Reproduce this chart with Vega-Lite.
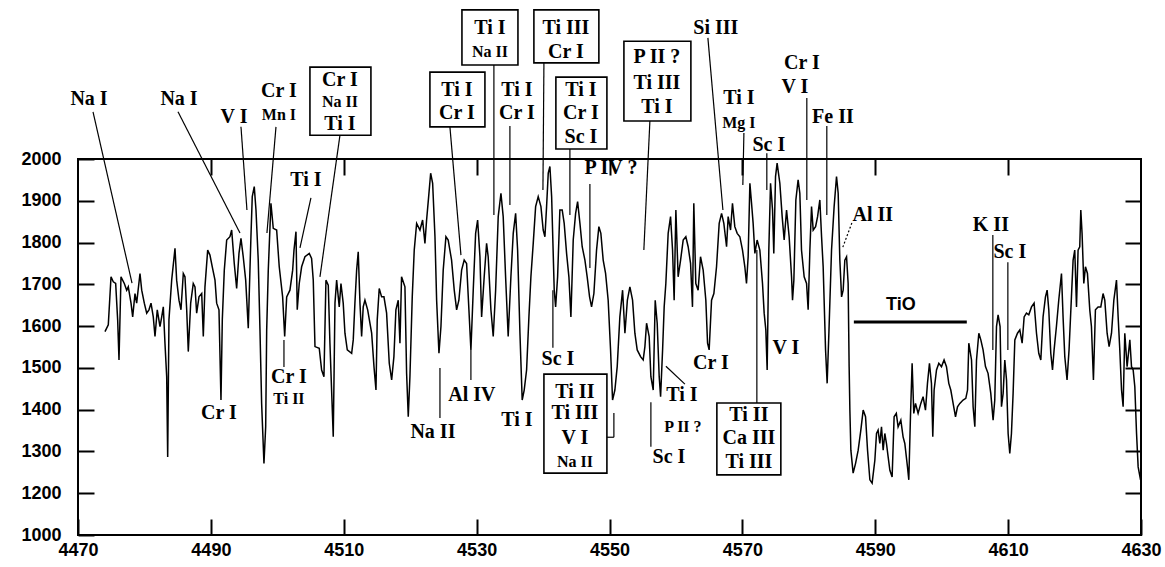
{
"$schema": "https://vega.github.io/schema/vega-lite/v6.json",
"width": 1063, "height": 376,
"autosize": {"type": "none"},
"padding": {"left": 78, "top": 159, "right": 24, "bottom": 32},
"background": "white",
"config": {"view": {"stroke": "black", "strokeWidth": 2}, "axis": {"grid": false, "domain": false, "title": null, "labelFont": "Liberation Sans", "labelFontWeight": "bold", "labelFontSize": 18, "labelColor": "black", "tickColor": "black", "tickWidth": 2, "labelOverlap": false}},
"resolve": {"axis": {"x": "independent", "y": "independent"}},
"datasets": {
"spectrum": [
{"w":4474.06,"f":1587},{"w":4474.56,"f":1603},{"w":4474.97,"f":1718},{"w":4475.31,"f":1706},{"w":4475.67,"f":1702},{"w":4475.97,"f":1615},{"w":4476.17,"f":1519},{"w":4476.47,"f":1718},{"w":4476.97,"f":1702},{"w":4477.33,"f":1686},{"w":4477.57,"f":1694},{"w":4477.98,"f":1655},{"w":4478.23,"f":1622},{"w":4478.58,"f":1678},{"w":4478.83,"f":1655},{"w":4479.33,"f":1726},{"w":4479.59,"f":1686},{"w":4479.98,"f":1655},{"w":4480.34,"f":1631},{"w":4480.68,"f":1639},{"w":4480.99,"f":1655},{"w":4481.33,"f":1622},{"w":4481.59,"f":1575},{"w":4481.93,"f":1639},{"w":4482.34,"f":1599},{"w":4482.60,"f":1622},{"w":4482.84,"f":1646},{"w":4483.09,"f":1559},{"w":4483.35,"f":1479},{"w":4483.50,"f":1287},{"w":4483.69,"f":1615},{"w":4484.10,"f":1710},{"w":4484.60,"f":1786},{"w":4484.85,"f":1710},{"w":4485.20,"f":1662},{"w":4485.50,"f":1639},{"w":4485.85,"f":1726},{"w":4486.10,"f":1718},{"w":4486.36,"f":1639},{"w":4486.60,"f":1539},{"w":4486.96,"f":1655},{"w":4487.35,"f":1702},{"w":4487.61,"f":1694},{"w":4487.86,"f":1631},{"w":4488.21,"f":1670},{"w":4488.62,"f":1678},{"w":4488.86,"f":1575},{"w":4489.11,"f":1694},{"w":4489.52,"f":1782},{"w":4489.86,"f":1770},{"w":4490.21,"f":1742},{"w":4490.62,"f":1710},{"w":4490.87,"f":1655},{"w":4491.22,"f":1639},{"w":4491.52,"f":1423},{"w":4491.72,"f":1615},{"w":4492.02,"f":1734},{"w":4492.38,"f":1806},{"w":4492.87,"f":1814},{"w":4493.13,"f":1830},{"w":4493.52,"f":1750},{"w":4493.88,"f":1690},{"w":4494.23,"f":1774},{"w":4494.53,"f":1810},{"w":4494.87,"f":1766},{"w":4495.24,"f":1710},{"w":4495.63,"f":1595},{"w":4495.88,"f":1734},{"w":4496.03,"f":1814},{"w":4496.23,"f":1910},{"w":4496.53,"f":1934},{"w":4496.79,"f":1878},{"w":4497.13,"f":1758},{"w":4497.39,"f":1591},{"w":4497.64,"f":1415},{"w":4497.99,"f":1271},{"w":4498.25,"f":1359},{"w":4498.40,"f":1591},{"w":4498.64,"f":1734},{"w":4499.04,"f":1894},{"w":4499.39,"f":1834},{"w":4499.90,"f":1830},{"w":4500.29,"f":1742},{"w":4500.80,"f":1670},{"w":4501.11,"f":1575},{"w":4501.41,"f":1670},{"w":4501.90,"f":1686},{"w":4502.31,"f":1734},{"w":4502.51,"f":1782},{"w":4502.81,"f":1826},{"w":4503.00,"f":1639},{"w":4503.30,"f":1702},{"w":4503.66,"f":1742},{"w":4504.16,"f":1766},{"w":4504.81,"f":1774},{"w":4505.16,"f":1762},{"w":4505.41,"f":1710},{"w":4505.67,"f":1551},{"w":4506.31,"f":1547},{"w":4506.67,"f":1495},{"w":4507.02,"f":1479},{"w":4507.32,"f":1710},{"w":4507.67,"f":1698},{"w":4507.92,"f":1559},{"w":4508.42,"f":1335},{"w":4508.68,"f":1655},{"w":4508.93,"f":1710},{"w":4509.32,"f":1646},{"w":4509.58,"f":1702},{"w":4509.92,"f":1655},{"w":4510.18,"f":1583},{"w":4510.53,"f":1543},{"w":4511.19,"f":1535},{"w":4511.43,"f":1567},{"w":4511.68,"f":1655},{"w":4511.94,"f":1734},{"w":4512.18,"f":1778},{"w":4512.44,"f":1655},{"w":4512.69,"f":1575},{"w":4512.93,"f":1646},{"w":4513.19,"f":1662},{"w":4513.60,"f":1639},{"w":4513.94,"f":1607},{"w":4514.20,"f":1583},{"w":4514.55,"f":1503},{"w":4514.85,"f":1447},{"w":4515.04,"f":1615},{"w":4515.34,"f":1690},{"w":4515.70,"f":1670},{"w":4516.05,"f":1670},{"w":4516.45,"f":1631},{"w":4516.85,"f":1511},{"w":4517.21,"f":1471},{"w":4517.55,"f":1527},{"w":4517.85,"f":1639},{"w":4518.20,"f":1662},{"w":4518.46,"f":1559},{"w":4518.70,"f":1718},{"w":4519.21,"f":1694},{"w":4519.46,"f":1487},{"w":4519.71,"f":1383},{"w":4519.96,"f":1479},{"w":4520.31,"f":1670},{"w":4520.61,"f":1782},{"w":4520.97,"f":1846},{"w":4521.47,"f":1830},{"w":4521.87,"f":1854},{"w":4522.22,"f":1798},{"w":4522.47,"f":1854},{"w":4522.78,"f":1910},{"w":4523.08,"f":1966},{"w":4523.38,"f":1942},{"w":4523.73,"f":1814},{"w":4523.98,"f":1662},{"w":4524.33,"f":1535},{"w":4524.63,"f":1599},{"w":4524.97,"f":1734},{"w":4525.38,"f":1814},{"w":4525.72,"f":1806},{"w":4526.23,"f":1758},{"w":4526.63,"f":1686},{"w":4526.99,"f":1639},{"w":4527.33,"f":1662},{"w":4527.74,"f":1734},{"w":4528.13,"f":1758},{"w":4528.49,"f":1750},{"w":4528.84,"f":1639},{"w":4529.14,"f":1543},{"w":4529.49,"f":1686},{"w":4529.85,"f":1822},{"w":4530.15,"f":1854},{"w":4530.50,"f":1766},{"w":4530.75,"f":1622},{"w":4531.14,"f":1718},{"w":4531.50,"f":1798},{"w":4531.74,"f":1766},{"w":4532.15,"f":1639},{"w":4532.50,"f":1575},{"w":4532.86,"f":1686},{"w":4533.25,"f":1862},{"w":4533.66,"f":1918},{"w":4534.00,"f":1862},{"w":4534.36,"f":1718},{"w":4534.75,"f":1575},{"w":4535.16,"f":1718},{"w":4535.51,"f":1822},{"w":4535.87,"f":1870},{"w":4536.17,"f":1782},{"w":4536.52,"f":1583},{"w":4536.86,"f":1423},{"w":4537.16,"f":1447},{"w":4537.52,"f":1495},{"w":4537.87,"f":1622},{"w":4538.17,"f":1718},{"w":4538.52,"f":1798},{"w":4538.88,"f":1886},{"w":4539.27,"f":1910},{"w":4539.68,"f":1886},{"w":4540.02,"f":1830},{"w":4540.28,"f":1814},{"w":4540.53,"f":1886},{"w":4540.78,"f":1966},{"w":4541.03,"f":1982},{"w":4541.29,"f":1910},{"w":4541.68,"f":1686},{"w":4541.89,"f":1646},{"w":4542.19,"f":1718},{"w":4542.53,"f":1878},{"w":4542.88,"f":1878},{"w":4543.18,"f":1846},{"w":4543.54,"f":1774},{"w":4543.89,"f":1718},{"w":4544.19,"f":1622},{"w":4544.54,"f":1806},{"w":4544.90,"f":1870},{"w":4545.20,"f":1898},{"w":4545.55,"f":1846},{"w":4545.89,"f":1790},{"w":4546.30,"f":1758},{"w":4546.64,"f":1718},{"w":4547.00,"f":1670},{"w":4547.30,"f":1646},{"w":4547.65,"f":1678},{"w":4548.05,"f":1782},{"w":4548.40,"f":1838},{"w":4548.70,"f":1822},{"w":4549.05,"f":1758},{"w":4549.41,"f":1726},{"w":4549.80,"f":1662},{"w":4550.16,"f":1543},{"w":4550.46,"f":1423},{"w":4550.81,"f":1447},{"w":4551.16,"f":1503},{"w":4551.56,"f":1622},{"w":4551.97,"f":1686},{"w":4552.32,"f":1583},{"w":4552.69,"f":1662},{"w":4553.07,"f":1694},{"w":4553.47,"f":1662},{"w":4553.82,"f":1583},{"w":4554.17,"f":1543},{"w":4554.68,"f":1527},{"w":4555.07,"f":1519},{"w":4555.33,"f":1551},{"w":4555.58,"f":1607},{"w":4555.97,"f":1575},{"w":4556.23,"f":1479},{"w":4556.58,"f":1447},{"w":4556.88,"f":1662},{"w":4557.18,"f":1607},{"w":4557.48,"f":1479},{"w":4557.69,"f":1431},{"w":4557.99,"f":1543},{"w":4558.23,"f":1646},{"w":4558.48,"f":1702},{"w":4558.83,"f":1822},{"w":4559.19,"f":1862},{"w":4559.49,"f":1782},{"w":4559.73,"f":1662},{"w":4559.99,"f":1878},{"w":4560.33,"f":1718},{"w":4560.70,"f":1758},{"w":4561.09,"f":1806},{"w":4561.49,"f":1814},{"w":4561.84,"f":1790},{"w":4562.20,"f":1750},{"w":4562.49,"f":1646},{"w":4562.69,"f":1894},{"w":4562.99,"f":1702},{"w":4563.34,"f":1686},{"w":4563.70,"f":1766},{"w":4564.10,"f":1734},{"w":4564.50,"f":1662},{"w":4564.76,"f":1559},{"w":4565.00,"f":1543},{"w":4565.36,"f":1662},{"w":4565.71,"f":1678},{"w":4566.11,"f":1742},{"w":4566.51,"f":1846},{"w":4566.87,"f":1870},{"w":4567.21,"f":1846},{"w":4567.62,"f":1790},{"w":4567.86,"f":1862},{"w":4568.22,"f":1830},{"w":4568.51,"f":1894},{"w":4568.86,"f":1838},{"w":4569.22,"f":1822},{"w":4569.62,"f":1814},{"w":4570.02,"f":1782},{"w":4570.37,"f":1742},{"w":4570.62,"f":1702},{"w":4570.87,"f":1766},{"w":4571.13,"f":1942},{"w":4571.38,"f":1894},{"w":4571.62,"f":1846},{"w":4571.88,"f":1774},{"w":4572.22,"f":1806},{"w":4572.63,"f":1782},{"w":4573.03,"f":1702},{"w":4573.28,"f":1631},{"w":4573.53,"f":1591},{"w":4573.73,"f":1495},{"w":4573.98,"f":1782},{"w":4574.24,"f":1942},{"w":4574.54,"f":1878},{"w":4574.73,"f":1774},{"w":4574.99,"f":1958},{"w":4575.23,"f":1990},{"w":4575.64,"f":1942},{"w":4575.99,"f":1862},{"w":4576.29,"f":1806},{"w":4576.65,"f":1878},{"w":4577.04,"f":1814},{"w":4577.40,"f":1718},{"w":4577.55,"f":1662},{"w":4577.75,"f":1710},{"w":4578.05,"f":1902},{"w":4578.39,"f":1950},{"w":4578.65,"f":1918},{"w":4578.90,"f":1782},{"w":4579.30,"f":1718},{"w":4579.66,"f":1702},{"w":4579.90,"f":1639},{"w":4580.16,"f":1782},{"w":4580.41,"f":1886},{"w":4580.66,"f":1830},{"w":4581.02,"f":1838},{"w":4581.32,"f":1862},{"w":4581.66,"f":1902},{"w":4581.92,"f":1814},{"w":4582.16,"f":1742},{"w":4582.52,"f":1543},{"w":4582.76,"f":1463},{"w":4583.02,"f":1583},{"w":4583.42,"f":1782},{"w":4583.81,"f":1886},{"w":4584.17,"f":1958},{"w":4584.42,"f":1918},{"w":4584.67,"f":1758},{"w":4584.93,"f":1670},{"w":4585.17,"f":1686},{"w":4585.42,"f":1758},{"w":4585.68,"f":1766},{"w":4585.92,"f":1702},{"w":4586.07,"f":1503},{"w":4586.18,"f":1399},{"w":4586.33,"f":1303},{"w":4586.67,"f":1248},{"w":4587.03,"f":1271},{"w":4587.43,"f":1303},{"w":4587.83,"f":1351},{"w":4588.18,"f":1399},{"w":4588.54,"f":1383},{"w":4588.84,"f":1303},{"w":4589.19,"f":1232},{"w":4589.53,"f":1224},{"w":4589.94,"f":1279},{"w":4590.19,"f":1343},{"w":4590.43,"f":1351},{"w":4590.69,"f":1319},{"w":4590.94,"f":1359},{"w":4591.19,"f":1303},{"w":4591.44,"f":1343},{"w":4591.69,"f":1319},{"w":4591.94,"f":1287},{"w":4592.20,"f":1255},{"w":4592.54,"f":1239},{"w":4592.84,"f":1383},{"w":4593.17,"f":1391},{"w":4593.44,"f":1359},{"w":4593.85,"f":1375},{"w":4594.19,"f":1335},{"w":4594.45,"f":1319},{"w":4594.85,"f":1263},{"w":4595.05,"f":1232},{"w":4595.30,"f":1383},{"w":4595.55,"f":1511},{"w":4595.80,"f":1391},{"w":4596.06,"f":1415},{"w":4596.45,"f":1391},{"w":4596.86,"f":1415},{"w":4597.20,"f":1431},{"w":4597.56,"f":1399},{"w":4597.86,"f":1463},{"w":4598.16,"f":1511},{"w":4598.46,"f":1463},{"w":4598.66,"f":1335},{"w":4598.86,"f":1447},{"w":4599.22,"f":1495},{"w":4599.57,"f":1511},{"w":4599.97,"f":1503},{"w":4600.36,"f":1519},{"w":4600.72,"f":1503},{"w":4601.07,"f":1463},{"w":4601.37,"f":1447},{"w":4601.72,"f":1415},{"w":4602.08,"f":1383},{"w":4602.38,"f":1407},{"w":4602.73,"f":1415},{"w":4603.22,"f":1423},{"w":4603.63,"f":1427},{"w":4603.89,"f":1447},{"w":4604.08,"f":1559},{"w":4604.49,"f":1519},{"w":4604.73,"f":1407},{"w":4604.99,"f":1359},{"w":4605.24,"f":1519},{"w":4605.59,"f":1583},{"w":4605.89,"f":1567},{"w":4606.23,"f":1543},{"w":4606.59,"f":1503},{"w":4606.98,"f":1487},{"w":4607.39,"f":1439},{"w":4607.74,"f":1375},{"w":4607.99,"f":1423},{"w":4608.25,"f":1599},{"w":4608.49,"f":1627},{"w":4608.79,"f":1599},{"w":4609.00,"f":1407},{"w":4609.25,"f":1439},{"w":4609.50,"f":1519},{"w":4609.76,"f":1471},{"w":4610.00,"f":1343},{"w":4610.25,"f":1295},{"w":4610.50,"f":1343},{"w":4610.75,"f":1439},{"w":4611.01,"f":1567},{"w":4611.41,"f":1583},{"w":4611.76,"f":1591},{"w":4612.11,"f":1559},{"w":4612.41,"f":1622},{"w":4612.76,"f":1631},{"w":4613.11,"f":1627},{"w":4613.52,"f":1646},{"w":4613.91,"f":1655},{"w":4614.27,"f":1583},{"w":4614.61,"f":1535},{"w":4614.92,"f":1519},{"w":4615.26,"f":1622},{"w":4615.62,"f":1670},{"w":4615.87,"f":1686},{"w":4616.12,"f":1639},{"w":4616.42,"f":1535},{"w":4616.68,"f":1495},{"w":4616.92,"f":1543},{"w":4617.27,"f":1599},{"w":4617.62,"f":1662},{"w":4618.03,"f":1726},{"w":4618.27,"f":1622},{"w":4618.53,"f":1527},{"w":4618.87,"f":1471},{"w":4619.17,"f":1543},{"w":4619.53,"f":1670},{"w":4619.78,"f":1758},{"w":4620.03,"f":1782},{"w":4620.29,"f":1646},{"w":4620.53,"f":1782},{"w":4620.78,"f":1790},{"w":4620.94,"f":1878},{"w":4621.13,"f":1822},{"w":4621.39,"f":1702},{"w":4621.64,"f":1742},{"w":4621.94,"f":1726},{"w":4622.29,"f":1639},{"w":4622.54,"f":1599},{"w":4622.84,"f":1471},{"w":4623.14,"f":1639},{"w":4623.54,"f":1646},{"w":4623.95,"f":1646},{"w":4624.29,"f":1678},{"w":4624.55,"f":1662},{"w":4624.90,"f":1583},{"w":4625.20,"f":1551},{"w":4625.56,"f":1583},{"w":4625.91,"f":1662},{"w":4626.31,"f":1710},{"w":4626.56,"f":1622},{"w":4626.81,"f":1543},{"w":4627.07,"f":1447},{"w":4627.31,"f":1407},{"w":4627.56,"f":1583},{"w":4627.91,"f":1503},{"w":4628.32,"f":1567},{"w":4628.57,"f":1503},{"w":4628.82,"f":1495},{"w":4629.07,"f":1455},{"w":4629.33,"f":1343},{"w":4629.57,"f":1263},{"w":4629.93,"f":1232}
],
"labels": [
{"t":"Na I","x":4471.66,"y":2144},{"t":"Na I","x":4485.20,"y":2144},{"t":"V I","x":4493.48,"y":2101},{"t":"Cr I","x":4500.25,"y":2163},{"t":"Cr I","x":4509.43,"y":2190},{"t":"Ti I","x":4509.43,"y":2083},{"t":"Ti I","x":4504.31,"y":1950},{"t":"Ti I","x":4527.04,"y":2165},{"t":"Cr I","x":4527.04,"y":2110},{"t":"Ti I","x":4532.00,"y":2314},{"t":"Ti I","x":4536.06,"y":2165},{"t":"Cr I","x":4536.06,"y":2110},{"t":"Ti III","x":4543.44,"y":2314},{"t":"Cr I","x":4543.44,"y":2256},{"t":"Ti I","x":4545.70,"y":2165},{"t":"Cr I","x":4545.70,"y":2110},{"t":"Sc I","x":4545.70,"y":2053},{"t":"P IV ?","x":4550.21,"y":1978},{"t":"P II ?","x":4557.13,"y":2244},{"t":"Ti III","x":4557.13,"y":2182},{"t":"Ti I","x":4557.13,"y":2124},{"t":"Si III","x":4566.01,"y":2314},{"t":"Ti I","x":4569.47,"y":2146},{"t":"Sc I","x":4573.99,"y":2034},{"t":"Cr I","x":4578.96,"y":2230},{"t":"V I","x":4577.90,"y":2172},{"t":"Fe II","x":4583.62,"y":2101},{"t":"Al II","x":4589.64,"y":1866},{"t":"K II","x":4607.40,"y":1842},{"t":"Sc I","x":4610.26,"y":1777},{"t":"Cr I","x":4491.22,"y":1392},{"t":"Cr I","x":4501.75,"y":1478},{"t":"Na II","x":4523.42,"y":1346},{"t":"Al IV","x":4529.29,"y":1435},{"t":"Ti I","x":4536.06,"y":1375},{"t":"Sc I","x":4542.24,"y":1521},{"t":"Ti II","x":4544.79,"y":1442},{"t":"Ti III","x":4544.79,"y":1392},{"t":"V I","x":4544.79,"y":1332},{"t":"Ti I","x":4560.90,"y":1435},{"t":"Sc I","x":4558.94,"y":1287},{"t":"Cr I","x":4565.26,"y":1512},{"t":"Ti II","x":4570.98,"y":1387},{"t":"Ca III","x":4570.98,"y":1332},{"t":"Ti III","x":4570.98,"y":1275},{"t":"V I","x":4576.55,"y":1548}
],
"small": [
{"t":"Mn I","x":4500.25,"y":2105},{"t":"Na II","x":4509.43,"y":2136},{"t":"Na II","x":4532.00,"y":2256},{"t":"Ti II","x":4501.75,"y":1425},{"t":"Na II","x":4544.79,"y":1275},{"t":"P II ?","x":4561.05,"y":1358},{"t":"Mg I","x":4569.47,"y":2086}
],
"band": [{"t":"TiO","x":4593.85,"y":1650,"x1":4586.78,"x2":4603.78,"yb":1610}],
"boxes": [
{"x1":4504.91,"x2":4514.09,"y1":2220,"y2":2057},{"x1":4522.97,"x2":4531.25,"y1":2208,"y2":2077},{"x1":4527.79,"x2":4536.22,"y1":2357,"y2":2225},{"x1":4538.62,"x2":4548.40,"y1":2357,"y2":2230},{"x1":4541.93,"x2":4549.61,"y1":2196,"y2":2024},{"x1":4552.17,"x2":4562.25,"y1":2282,"y2":2091},{"x1":4540.13,"x2":4549.61,"y1":1485,"y2":1248},{"x1":4566.16,"x2":4575.79,"y1":1416,"y2":1244}
],
"leaders": [
{"x1":4472.26,"y1":2113,"x2":4478.13,"y2":1703},{"x1":4485.05,"y1":2113,"x2":4494.38,"y2":1823},{"x1":4494.53,"y1":2077,"x2":4495.43,"y2":1878},{"x1":4499.80,"y1":2077,"x2":4498.44,"y2":1823},{"x1":4509.43,"y1":2057,"x2":4506.42,"y2":1718},{"x1":4505.06,"y1":1907,"x2":4503.41,"y2":1787},{"x1":4525.98,"y1":2077,"x2":4527.64,"y2":1770},{"x1":4532.60,"y1":2225,"x2":4532.60,"y2":1866},{"x1":4535.01,"y1":2079,"x2":4535.01,"y2":1890},{"x1":4540.13,"y1":2230,"x2":4539.98,"y2":1926},{"x1":4544.04,"y1":2024,"x2":4544.04,"y2":1866},{"x1":4547.05,"y1":1940,"x2":4547.05,"y2":1739},{"x1":4556.08,"y1":2091,"x2":4555.17,"y2":1782},{"x1":4564.81,"y1":2290,"x2":4567.07,"y2":1878},{"x1":4570.23,"y1":2062,"x2":4570.07,"y2":1938},{"x1":4573.68,"y1":2014,"x2":4573.68,"y2":1926},{"x1":4579.70,"y1":2146,"x2":4579.70,"y2":1902},{"x1":4582.71,"y1":2079,"x2":4582.71,"y2":1866},{"x1":4607.70,"y1":1818,"x2":4607.70,"y2":1543},{"x1":4609.96,"y1":1753,"x2":4609.96,"y2":1543},{"x1":4501.00,"y1":1502,"x2":4501.00,"y2":1567},{"x1":4524.48,"y1":1380,"x2":4524.48,"y2":1500},{"x1":4529.14,"y1":1471,"x2":4529.14,"y2":1543},{"x1":4541.48,"y1":1548,"x2":4541.48,"y2":1686},{"x1":4549.61,"y1":1334,"x2":4550.66,"y2":1334},{"x1":4550.66,"y1":1334,"x2":4550.66,"y2":1392},{"x1":4558.49,"y1":1504,"x2":4561.35,"y2":1461},{"x1":4556.23,"y1":1418,"x2":4556.23,"y2":1311},{"x1":4572.18,"y1":1416,"x2":4572.18,"y2":1782}
],
"dotted": [{"x1":4586.48,"y1":1847,"x2":4585.12,"y2":1789}]
},
"layer": [
{"data": {"name": "spectrum"}, "mark": {"type": "line", "color": "black", "strokeWidth": 1.5},
 "encoding": {
  "x": {"field": "w", "type": "quantitative", "scale": {"domain": [4470, 4630], "nice": false, "zero": false}, "axis": {"orient": "bottom", "values": [4470,4490,4510,4530,4550,4570,4590,4610,4630], "format": "d", "tickSize": -16, "labelPadding": 22, "labelFlush": false}},
  "y": {"field": "f", "type": "quantitative", "scale": {"domain": [1100, 2000], "nice": false, "zero": false}, "axis": {"orient": "left", "values": [1100,1200,1300,1400,1500,1600,1700,1800,1900,2000], "format": "d", "tickSize": -16, "labelPadding": 33, "labelExpr": "datum.value == 1100 ? '1000' : datum.label"}}
 }},
{"data": {"name": "boxes"}, "mark": {"type": "rect", "fill": "white", "stroke": "black", "strokeWidth": 1.6},
 "encoding": {
  "x": {"field": "x1", "type": "quantitative", "scale": {"domain": [4470, 4630], "nice": false, "zero": false}, "axis": null},
  "x2": {"field": "x2"},
  "y": {"field": "y1", "type": "quantitative", "scale": {"domain": [1100, 2000], "nice": false, "zero": false}, "axis": null},
  "y2": {"field": "y2"}
 }},
{"data": {"name": "leaders"}, "mark": {"type": "rule", "color": "black", "strokeWidth": 1.2},
 "encoding": {
  "x": {"field": "x1", "type": "quantitative", "scale": {"domain": [4470, 4630], "nice": false, "zero": false}, "axis": null},
  "x2": {"field": "x2"},
  "y": {"field": "y1", "type": "quantitative", "scale": {"domain": [1100, 2000], "nice": false, "zero": false}, "axis": null},
  "y2": {"field": "y2"}
 }},
{"data": {"name": "dotted"}, "mark": {"type": "rule", "color": "black", "strokeWidth": 1.2, "strokeDash": [2, 2]},
 "encoding": {
  "x": {"field": "x1", "type": "quantitative", "scale": {"domain": [4470, 4630], "nice": false, "zero": false}, "axis": null},
  "x2": {"field": "x2"},
  "y": {"field": "y1", "type": "quantitative", "scale": {"domain": [1100, 2000], "nice": false, "zero": false}, "axis": null},
  "y2": {"field": "y2"}
 }},
{"data": {"name": "band"}, "mark": {"type": "rule", "color": "black", "strokeWidth": 3},
 "encoding": {
  "x": {"field": "x1", "type": "quantitative", "scale": {"domain": [4470, 4630], "nice": false, "zero": false}, "axis": null},
  "x2": {"field": "x2"},
  "y": {"field": "yb", "type": "quantitative", "scale": {"domain": [1100, 2000], "nice": false, "zero": false}, "axis": null}
 }},
{"data": {"name": "band"}, "mark": {"type": "text", "font": "Liberation Sans", "fontWeight": "bold", "fontSize": 18, "color": "black", "baseline": "middle", "align": "center"},
 "encoding": {
  "x": {"field": "x", "type": "quantitative", "scale": {"domain": [4470, 4630], "nice": false, "zero": false}, "axis": null},
  "y": {"field": "y", "type": "quantitative", "scale": {"domain": [1100, 2000], "nice": false, "zero": false}, "axis": null},
  "text": {"field": "t"}
 }},
{"data": {"name": "small"}, "mark": {"type": "text", "font": "Liberation Serif", "fontWeight": "bold", "fontSize": 16, "color": "black", "baseline": "middle", "align": "center"},
 "encoding": {
  "x": {"field": "x", "type": "quantitative", "scale": {"domain": [4470, 4630], "nice": false, "zero": false}, "axis": null},
  "y": {"field": "y", "type": "quantitative", "scale": {"domain": [1100, 2000], "nice": false, "zero": false}, "axis": null},
  "text": {"field": "t"}
 }},
{"data": {"name": "labels"}, "mark": {"type": "text", "font": "Liberation Serif", "fontWeight": "bold", "fontSize": 20, "color": "black", "baseline": "middle", "align": "center"},
 "encoding": {
  "x": {"field": "x", "type": "quantitative", "scale": {"domain": [4470, 4630], "nice": false, "zero": false}, "axis": {"orient": "top", "labels": false, "values": [4490,4510,4530,4550,4570,4590,4610], "tickSize": -16}},
  "y": {"field": "y", "type": "quantitative", "scale": {"domain": [1100, 2000], "nice": false, "zero": false}, "axis": {"orient": "right", "labels": false, "values": [1200,1300,1400,1500,1600,1700,1800,1900], "tickSize": -16}},
  "text": {"field": "t"}
 }}
]
}
